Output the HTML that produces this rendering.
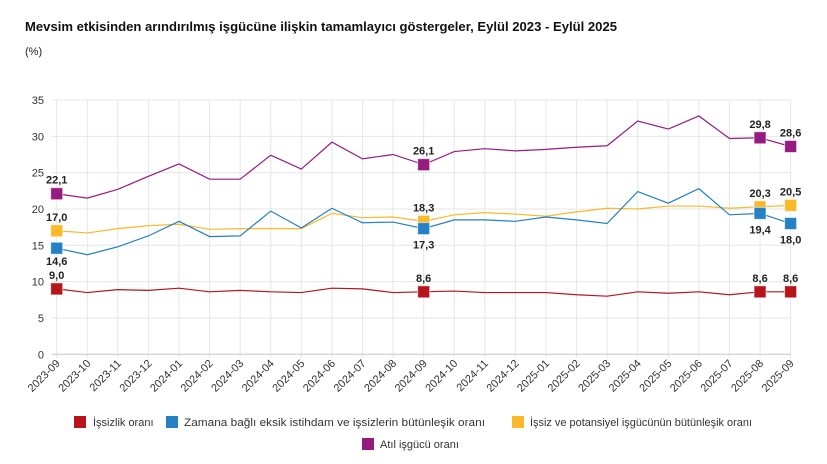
<!DOCTYPE html>
<html><head><meta charset="utf-8"><style>
body{margin:0;background:#fff;}
svg{display:block;font-family:"Liberation Sans",sans-serif;}
</style></head><body>
<svg id="c" width="827" height="464" xmlns="http://www.w3.org/2000/svg">
<text x="25" y="31" font-size="13" font-weight="bold" fill="#111" textLength="592" lengthAdjust="spacingAndGlyphs">Mevsim etkisinden arındırılmış işgücüne ilişkin tamamlayıcı göstergeler, Eylül 2023 - Eylül 2025</text>
<text x="25" y="55" font-size="11" fill="#222">(%)</text>
<g id="g"></g>
<g font-size="11" fill="#333">
<rect x="74" y="416" width="12" height="12" fill="#b5151b"/><text x="93" y="426">İşsizlik oranı</text>
<rect x="166" y="416" width="12" height="12" fill="#2581c4"/><text x="184" y="426" textLength="301" lengthAdjust="spacingAndGlyphs">Zamana bağlı eksik istihdam ve işsizlerin bütünleşik oranı</text>
<rect x="512" y="416" width="12" height="12" fill="#fbb829"/><text x="530" y="426" textLength="222" lengthAdjust="spacingAndGlyphs">İşsiz ve potansiyel işgücünün bütünleşik oranı</text>
<rect x="362" y="438" width="12" height="12" fill="#961b80"/><text x="380" y="448">Atıl işgücü oranı</text>
</g>
</svg>
<script>
const g=document.getElementById('g');let h='';
const X=i=>56.7+i*30.58, Y=v=>354.3-v*7.266;
for(let v=0;v<=35;v+=5){h+=`<line x1="52" x2="791" y1="${Y(v)}" y2="${Y(v)}" stroke="#e6e6e6"/><text x="44" y="${Y(v)+4}" font-size="11" fill="#333" text-anchor="end">${v}</text>`;}
const labs=[];for(let i=0;i<25;i++){let m=9+i,y=2023+Math.floor((m-1)/12);m=((m-1)%12)+1;labs.push(y+'-'+String(m).padStart(2,'0'));}
labs.forEach((l,i)=>{h+=`<line x1="${X(i)}" x2="${X(i)}" y1="${Y(35)}" y2="358" stroke="#e6e6e6"/><text transform="translate(${X(i)+4},364) rotate(-45)" font-size="11" fill="#333" text-anchor="end">${l}</text>`;});
h+=`<line x1="52" x2="791" y1="${Y(0)}" y2="${Y(0)}" stroke="#ccc"/>`;
const S=[
["#b5151b",[9.0,8.5,8.9,8.8,9.1,8.6,8.8,8.6,8.5,9.1,9.0,8.5,8.6,8.7,8.5,8.5,8.5,8.2,8.0,8.6,8.4,8.6,8.2,8.6,8.6]],
["#fbb829",[17.0,16.7,17.3,17.7,17.9,17.2,17.3,17.3,17.3,19.4,18.8,18.9,18.3,19.2,19.5,19.3,19.0,19.6,20.1,20.0,20.4,20.4,20.1,20.3,20.5]],
["#2581c4",[14.6,13.7,14.8,16.3,18.3,16.2,16.3,19.7,17.4,20.1,18.1,18.2,17.3,18.5,18.5,18.3,18.9,18.5,18.0,22.4,20.8,22.8,19.2,19.4,18.0]],
["#961b80",[22.1,21.5,22.7,24.5,26.2,24.1,24.1,27.4,25.5,29.2,26.9,27.5,26.1,27.9,28.3,28.0,28.2,28.5,28.7,32.1,31.0,32.8,29.7,29.8,28.6]]];
S.forEach(([c,d])=>{h+=`<polyline fill="none" stroke="${c}" stroke-width="1.2" points="${d.map((v,i)=>X(i)+','+Y(v)).join(' ')}"/>`;
[0,12,23,24].forEach(i=>{h+=`<rect x="${X(i)-6}" y="${Y(d[i])-6}" width="12" height="12" fill="${c}" stroke="#fff" stroke-opacity=".6"/>`;});});
const L=[[0,9.0,-10],[0,14.6,17],[0,17.0,-10],[0,22.1,-10],[12,8.6,-10],[12,17.3,20],[12,18.3,-10],[12,26.1,-10],[23,8.6,-10],[23,19.4,20],[23,20.3,-10],[23,29.8,-10],[24,8.6,-10],[24,18.0,20],[24,20.5,-10],[24,28.6,-10]];
L.forEach(([i,v,o])=>{h+=`<text x="${X(i)}" y="${Y(v)+o}" font-size="11" font-weight="bold" fill="#222" text-anchor="middle">${v.toFixed(1).replace('.',',')}</text>`;});
g.innerHTML=h;
</script>
</body></html>
